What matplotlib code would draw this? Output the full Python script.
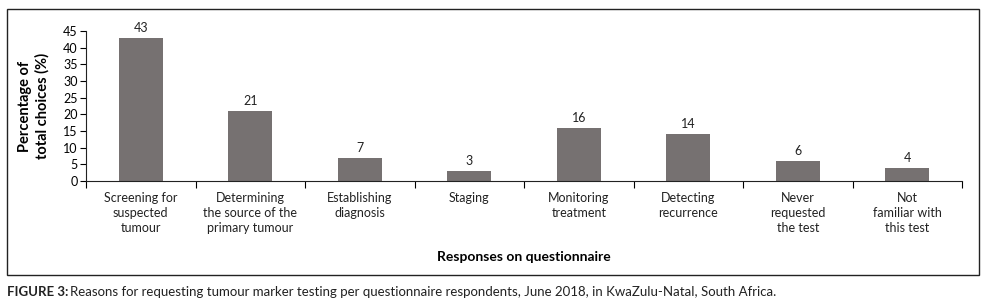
import matplotlib
matplotlib.use("Agg")
import matplotlib.pyplot as plt
from matplotlib.patches import Rectangle

categories = ["Screening for\nsuspected\ntumour", "Determining\nthe source of the\nprimary tumour",
              "Establishing\ndiagnosis", "Staging", "Monitoring\ntreatment", "Detecting\nrecurrence",
              "Never\nrequested\nthe test", "Not\nfamiliar with\nthis test"]
values = [43, 21, 7, 3, 16, 14, 6, 4]
yticks = [0, 5, 10, 15, 20, 25, 30, 35, 40, 45]

plt.rcParams['font.family'] = ['Lato', 'DejaVu Sans']
W, H = 994, 307
fig = plt.figure(figsize=(W/100, H/100), dpi=100)
ax = fig.add_axes([86/W, 1-181/H, (962-86)/W, 150/H])
x = list(range(len(values)))
bars = ax.bar(x, values, width=0.4, color='#767171')
for xi, v in zip(x, values):
    ax.text(xi, v + 1.2, str(v), ha='center', va='bottom', fontsize=9, color='#222222')
ax.set_xlim(-0.5, len(values) - 0.5)
ax.set_ylim(0, 45)
ax.set_yticks(yticks)
ax.tick_params(axis='y', labelsize=9, length=4, direction='out', pad=2)
ax.set_xticks([i + 0.5 for i in range(-1, len(values))])
ax.set_xticklabels([])
ax.tick_params(axis='x', length=5, direction='out')
for xi, lab in zip(x, categories):
    ax.text(xi, -3.2, lab, ha='center', va='top', fontsize=9, color='#222222', linespacing=1.3)
for s in ['top', 'right']:
    ax.spines[s].set_visible(False)
ax.spines['left'].set_color('#222222')
ax.spines['bottom'].set_color('#222222')
ax.set_ylabel("Percentage of\ntotal choices (%)", fontsize=10.5, fontweight='bold', labelpad=10)
fig.text(524/W, 1-257/H, "Responses on questionnaire", ha='center', va='center', fontsize=10, fontweight='bold')
fig.patches.append(Rectangle((7/W, 1-275/H), (979-7)/W, (275-9)/H, transform=fig.transFigure,
                             fill=False, edgecolor='#222222', linewidth=1))
fig.text(7/W, 1-292/H, "FIGURE 3:", ha='left', va='center', fontsize=9.5, fontweight='bold', color='#222222')
fig.text(70/W, 1-292/H, "Reasons for requesting tumour marker testing per questionnaire respondents, June 2018, in KwaZulu-Natal, South Africa.",
         ha='left', va='center', fontsize=9.5, color='#222222')
fig.savefig("out.png", dpi=100)
